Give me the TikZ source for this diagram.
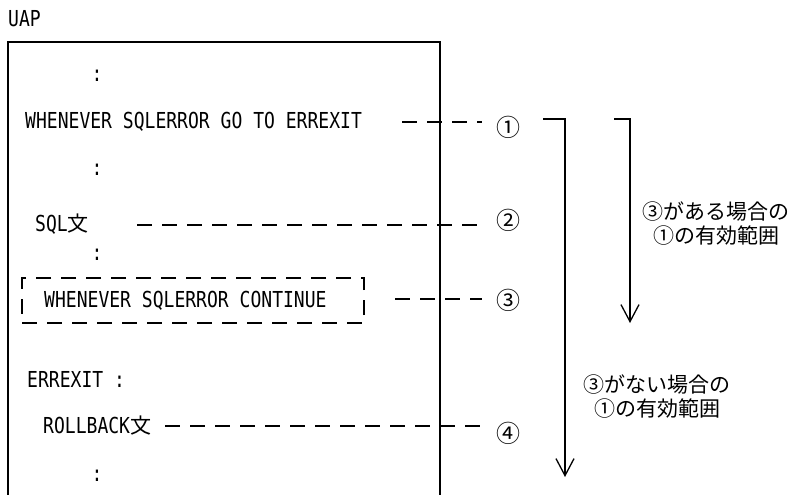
\documentclass[tikz,border=0pt]{standalone}
\usepackage{fontspec}
\usetikzlibrary{arrows.meta}
\newfontfamily\monof[FakeStretch=0.82]{DejaVu Sans Mono}
\newfontfamily\jpf{Noto Sans CJK JP}
\begin{document}
\begin{tikzpicture}[x=1pt,y=-1pt,
  code/.style={inner sep=0pt,anchor=base west,font=\monof\fontsize{22}{24}\selectfont},
  dots/.style={inner sep=0pt,font=\monof\fontsize{22}{24}\selectfont},
  num/.style={inner sep=0pt,font=\jpf\fontsize{24}{26}\selectfont},
  note/.style={inner sep=0pt,align=center,font=\jpf\fontsize{21}{24}\selectfont},
  ln/.style={line width=1.3pt},
  dsh/.style={line width=1.3pt,dash pattern=on 15pt off 10pt},
  arr/.style={line width=1.3pt,-{Straight Barb[length=17pt,width=18pt,line width=1.3pt]}}]
\useasboundingbox (0,0) rectangle (796,495);
% title
\node[code] (uap) at (8,27) {UAP};
% UAP box
\coordinate (bl) at (8,500);
\coordinate (tl) at (8,42);
\coordinate (tr) at (440,42);
\coordinate (br) at (440,500);
\draw[ln] (bl) -- (tl) -- (tr) -- (br);
% code lines
\node[dots] (d1) at (97,76) {:};
\node[code] (w1) at (25,128.5) {WHENEVER SQLERROR GO TO ERREXIT};
\node[dots] (d2) at (97,170) {:};
\node[code] (sql) at (35,231.5) {SQL{\jpf\fontsize{21}{22}\selectfont 文}};
\node[dots] (d3) at (97,255) {:};
\node[code] (w2) at (44,307) {WHENEVER SQLERROR CONTINUE};
\node[draw,dsh,inner sep=0pt,minimum width=342pt,minimum height=45pt] (cbox) at (193,300.5) {};
\node[code] (ee) at (27,387) {ERREXIT :};
\node[code] (rb) at (43,433) {ROLLBACK{\jpf\fontsize{21}{22}\selectfont 文}};
\node[dots] (d4) at (97,476) {:};
% circled numbers
\node[num] (n1) at (508,127) {①};
\node[num] (n2) at (508,220) {②};
\node[num] (n3) at (508,300) {③};
\node[num] (n4) at (508,433) {④};
% dashed leaders
\coordinate (s1) at (402,122);
\coordinate (e1) at (482,122);
\coordinate (s2) at (137,225);
\coordinate (e2) at (482,225);
\coordinate (s3) at (395,299);
\coordinate (e3) at (482,299);
\coordinate (s4) at (165,426);
\coordinate (e4) at (482,426);
\draw[dsh] (s1) -- (e1);
\draw[dsh] (s2) -- (e2);
\draw[dsh] (s3) -- (e3);
\draw[dsh] (s4) -- (e4);
% range arrows
\coordinate (a1s) at (543,119);
\coordinate (a1c) at (565,119);
\coordinate (a1e) at (565,477);
\coordinate (a2s) at (614,119);
\coordinate (a2c) at (630,119);
\coordinate (a2e) at (630,323);
\draw[arr] (a1s) -- (a1c) -- (a1e);
\draw[arr] (a2s) -- (a2c) -- (a2e);
% notes
\node[note] (la) at (716,224) {③がある場合の\\①の有効範囲};
\node[note] (lb) at (657,397) {③がない場合の\\①の有効範囲};
\end{tikzpicture}
\end{document}
